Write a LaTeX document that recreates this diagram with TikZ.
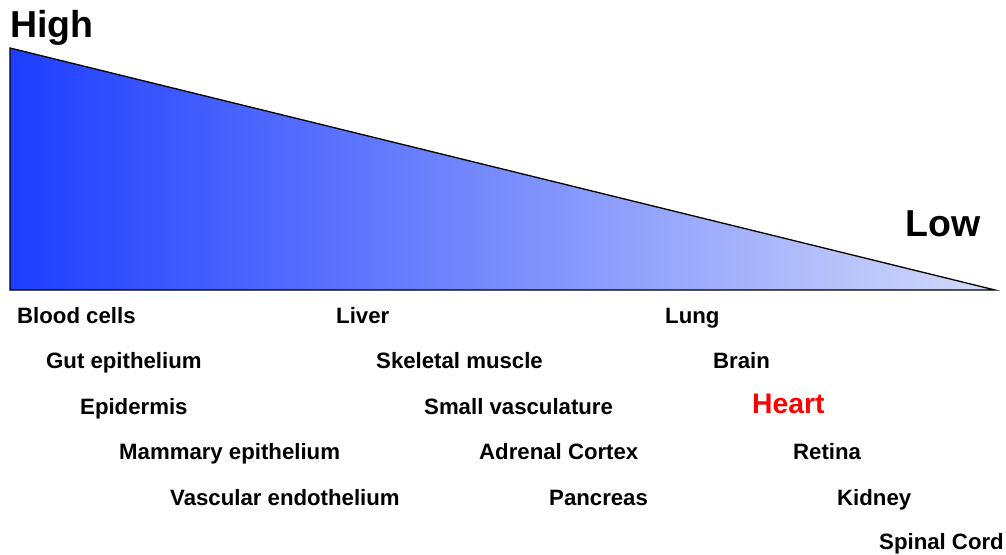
\documentclass[tikz,border=0pt]{standalone}
\usepackage{fontspec}
\setmainfont{Liberation Sans}
\begin{document}
\begin{tikzpicture}[x=1pt,y=-1pt,
  lbl/.style={anchor=base west,inner sep=0pt,font=\fontsize{22.2}{24}\selectfont\bfseries},
  big/.style={anchor=base west,inner sep=0pt,font=\fontsize{37.5}{40}\selectfont\bfseries}]
\useasboundingbox (0,0) rectangle (1006,554);
\definecolor{gl}{HTML}{1E3EFF}
\definecolor{gr}{HTML}{D4DBF9}
\coordinate (tl) at (10,48);
\coordinate (bl) at (10,290);
\coordinate (tip) at (995,290);
\shade[left color=gl,right color=gr] (tl) -- (tip) -- (bl) -- cycle;
\draw[line width=1.3pt,line join=miter] (tl) -- (tip) -- (bl) -- cycle;
\node[big] (high) at (10,37) {High};
\node[big] (low) at (905,236) {Low};
\node[lbl] (blood) at (17,323) {Blood cells};
\node[lbl] (gut) at (46,368) {Gut epithelium};
\node[lbl] (epi) at (80,414) {Epidermis};
\node[lbl] (mam) at (119,459) {Mammary epithelium};
\node[lbl] (vasc) at (170,505) {Vascular endothelium};
\node[lbl] (liver) at (336,323) {Liver};
\node[lbl] (skel) at (376,368) {Skeletal muscle};
\node[lbl] (small) at (424,414) {Small vasculature};
\node[lbl] (adr) at (479,459) {Adrenal Cortex};
\node[lbl] (panc) at (549,505) {Pancreas};
\node[lbl] (lung) at (665,323) {Lung};
\node[lbl] (brain) at (713,368) {Brain};
\node[lbl,text=red,font=\fontsize{28.3}{30}\selectfont\bfseries] (heart) at (752,413) {Heart};
\node[lbl] (ret) at (793,459) {Retina};
\node[lbl] (kid) at (837,505) {Kidney};
\node[lbl] (spin) at (879,549) {Spinal Cord};
\end{tikzpicture}
\end{document}
